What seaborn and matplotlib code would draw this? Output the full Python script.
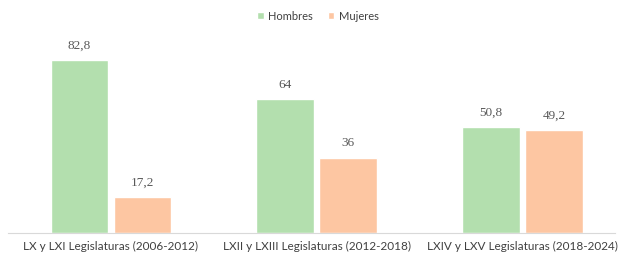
import matplotlib
matplotlib.use("Agg")
import matplotlib.pyplot as plt
import seaborn as sns
import pandas as pd
from matplotlib.patches import Patch

categories = ["LX y LXI Legislaturas (2006-2012)",
              "LXII y LXIII Legislaturas (2012-2018)",
              "LXIV y LXV Legislaturas (2018-2024)"]
hombres = [82.8, 64, 50.8]
mujeres = [17.2, 36, 49.2]
hombres_labels = ["82,8", "64", "50,8"]
mujeres_labels = ["17,2", "36", "49,2"]
series = ["Hombres", "Mujeres"]
colors = ["#b3dfae", "#fdc6a2"]

df = pd.DataFrame({
    "cat": categories * 2,
    "serie": ["Hombres"] * 3 + ["Mujeres"] * 3,
    "val": hombres + mujeres,
})

sns.set_theme(style="white")
plt.rcParams["font.family"] = ["Lato", "DejaVu Sans"]

fig = plt.figure(figsize=(6.22, 2.6), dpi=100)
ax = fig.add_axes([8/622, 27/260, 607/622, 203/260])
sns.barplot(data=df, x="cat", y="val", hue="serie", palette=colors,
            width=0.614, gap=0.09, ax=ax, legend=False, saturation=1)

ax.set_ylim(0, 97)
ax.set_xlim(-0.5, 2.45)
ax.set_xlabel("")
ax.set_ylabel("")
ax.set_yticks([])
for s in ["top", "right", "left"]:
    ax.spines[s].set_visible(False)
ax.spines["bottom"].set_color("#d9d9d9")
ax.spines["bottom"].set_linewidth(0.8)
ax.tick_params(axis="x", length=0, pad=6, labelsize=8.5, colors="#404040")

labels_all = [hombres_labels, mujeres_labels]
for cont, labs in zip(ax.containers, labels_all):
    ax.bar_label(cont, labels=labs, padding=6, fontsize=9.5,
                 family=["Liberation Serif", "DejaVu Serif"], color="#595959")

handles = [Patch(facecolor=c, label=s) for c, s in zip(colors, series)]
fig.legend(handles=handles, loc="center", bbox_to_anchor=(318/622, 1 - 16/260),
           ncol=2, frameon=False, fontsize=8, handlelength=0.6, handleheight=0.6,
           columnspacing=1.3, handletextpad=0.4, labelcolor="#404040")

fig.savefig("out.png", dpi=100)
